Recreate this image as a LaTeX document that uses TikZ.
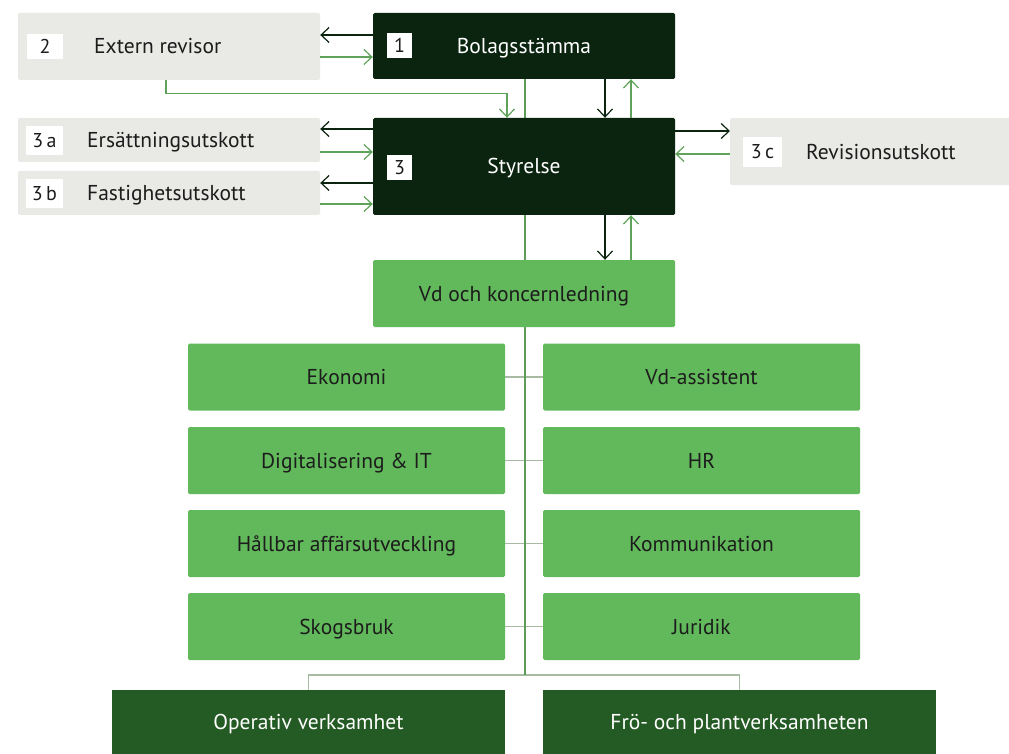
\documentclass[tikz,border=0pt]{standalone}
\usepackage{fontspec}
\setmainfont{PT Sans}
\usetikzlibrary{arrows.meta,backgrounds}
\definecolor{topdark}{HTML}{0B2410}
\definecolor{lightgreen}{HTML}{62B95B}
\definecolor{botgreen}{HTML}{245A24}
\definecolor{boxgray}{HTML}{E9EAE6}
\definecolor{arrgreen}{HTML}{5FA35A}
\definecolor{trunkgreen}{HTML}{5E9C5A}
\definecolor{conngray}{HTML}{A7BBA3}
\definecolor{txtdark}{HTML}{1C1C1C}
\tikzset{
  base/.style={rectangle, rounded corners=1.5pt, inner sep=0pt, text height=15pt, text depth=0pt, font=\fontsize{21.5}{24}\selectfont},
  darkbox/.style={base, fill=topdark, text=white, minimum width=302pt},
  graybox/.style={base, fill=boxgray, text=txtdark},
  greenbox/.style={base, fill=lightgreen, text=txtdark, minimum width=317pt, minimum height=67pt},
  bottombox/.style={base, fill=botgreen, text=white, minimum width=393pt, minimum height=64pt, rounded corners=0pt},
  tagbox/.style={rectangle, fill=white, text=txtdark, inner sep=0pt, minimum height=25pt, text height=14pt, text depth=0pt, font=\fontsize{20}{22}\selectfont},
  lbl/.style={inner sep=0pt, anchor=west, text=txtdark, text height=15pt, text depth=0pt, font=\fontsize{21.5}{24}\selectfont},
  arrtip/.style={-{Straight Barb[length=8pt,width=15pt]}},
  blkarrow/.style={arrtip, draw=topdark, line width=1.2pt},
  grnarrow/.style={arrtip, draw=arrgreen, line width=1.2pt},
  trunk/.style={draw=trunkgreen, line width=1.3pt},
  conn/.style={draw=conngray, line width=1.3pt},
}
\begin{document}
\begin{tikzpicture}[x=1pt,y=-1pt]
\useasboundingbox (0,0) rectangle (1009,754);
% top boxes
\node[graybox, minimum width=302pt, minimum height=67pt] (ext) at (169,46.5) {};
\node[tagbox, minimum width=36pt] (t2) at (45,46.5) {2};
\node[lbl] (lext) at (94,46.5) {Extern revisor};
\node[darkbox, minimum height=66pt] (bol) at (524,46) {Bolagsstämma};
\node[tagbox, minimum width=25pt] (t1) at (399.5,46) {1};
\node[darkbox, minimum height=97pt] (sty) at (524,166.5) {Styrelse};
\node[tagbox, minimum width=25pt] (t3) at (399.5,168) {3};
\node[graybox, minimum width=302pt, minimum height=44pt] (ua) at (169,140) {};
\node[tagbox, minimum width=37pt, minimum height=29pt] (t3a) at (44.5,140.5) {3\,a};
\node[lbl] (lua) at (87,140) {Ersättningsutskott};
\node[graybox, minimum width=302pt, minimum height=44pt] (ub) at (169,193) {};
\node[tagbox, minimum width=37pt, minimum height=29pt] (t3b) at (44.5,193.5) {3\,b};
\node[lbl] (lub) at (87,193) {Fastighetsutskott};
\node[graybox, minimum width=284pt, minimum height=67pt, anchor=north west] (uc) at (730,118) {};
\node[tagbox, minimum width=39pt, minimum height=30pt] (t3c) at (762.5,152) {3\,c};
\node[lbl] (luc) at (806,152) {Revisionsutskott};
% management
\node[greenbox, minimum width=302pt] (vd) at (524,293.5) {Vd och koncernledning};
\node[greenbox] (l1) at (346.5,377) {Ekonomi};
\node[greenbox] (r1) at (701.5,377) {Vd-assistent};
\node[greenbox] (l2) at (346.5,460.5) {Digitalisering \& IT};
\node[greenbox] (r2) at (701.5,460.5) {HR};
\node[greenbox] (l3) at (346.5,543.5) {Hållbar affärsutveckling};
\node[greenbox] (r3) at (701.5,543.5) {Kommunikation};
\node[greenbox] (l4) at (346.5,626.5) {Skogsbruk};
\node[greenbox] (r4) at (701.5,626.5) {Juridik};
\node[bottombox] (bl) at (308.5,722) {Operativ verksamhet};
\node[bottombox] (br) at (739.5,722) {Frö- och plantverksamheten};
\coordinate (hub) at (525,675);
% connectors behind
\begin{scope}[on background layer]
\draw[conn] (l1.east) -- (r1.west);
\draw[conn] (l2.east) -- (r2.west);
\draw[conn] (l3.east) -- (r3.west);
\draw[conn] (l4.east) -- (r4.west);
\draw[conn] (bl.north) -- (bl.north |- hub) -- (br.north |- hub) -- (br.north);
\draw[trunk] (bol.south -| hub) -- (hub);
\end{scope}
% arrows
\draw[blkarrow] (bol.west |- 0,35) -- (ext.east |- 0,35);
\draw[grnarrow] (ext.east |- 0,57) -- (bol.west |- 0,57);
\draw[grnarrow] (ext.south -| 166,0) -- ++(0,13) -| (sty.north -| 507,0);
\draw[blkarrow] (bol.south -| 605,0) -- (sty.north -| 605,0);
\draw[grnarrow] (sty.north -| 631,0) -- (bol.south -| 631,0);
\draw[blkarrow] (sty.south -| 605,0) -- (vd.north -| 605,0);
\draw[grnarrow] (vd.north -| 631,0) -- (sty.south -| 631,0);
\draw[blkarrow] (sty.west |- 0,129) -- (ua.east |- 0,129);
\draw[grnarrow] (ua.east |- 0,152) -- (sty.west |- 0,152);
\draw[blkarrow] (sty.west |- 0,183) -- (ub.east |- 0,183);
\draw[grnarrow] (ub.east |- 0,204) -- (sty.west |- 0,204);
\draw[blkarrow] (sty.east |- 0,131) -- (uc.west |- 0,131);
\draw[grnarrow] (uc.west |- 0,154) -- (sty.east |- 0,154);
\end{tikzpicture}
\end{document}
